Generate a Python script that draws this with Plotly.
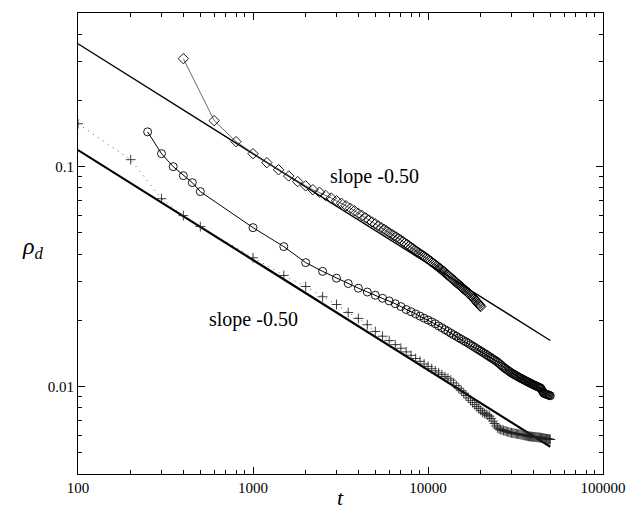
import plotly.graph_objects as go

# ---------------- data ----------------
diam_t = list(range(400, 20001, 200))
diam_rho = [
    0.310, 0.162, 0.130, 0.1146, 0.1043, 0.0968, 0.0907, 0.0855, 0.0818,
    0.0786, 0.0765, 0.0740, 0.0720, 0.0700, 0.0682, 0.0664, 0.0647, 0.0630, 0.0613,
    0.0599, 0.0585, 0.0572, 0.0560, 0.0549, 0.0538, 0.0528, 0.0519, 0.0510, 0.0501,
    0.0493, 0.0485, 0.0478, 0.0470, 0.0464, 0.0456, 0.0449, 0.0443, 0.0436, 0.0430,
    0.0424, 0.0418, 0.0413, 0.0407, 0.0402, 0.0397, 0.0393, 0.0389, 0.0384, 0.0380,
    0.0375, 0.0371, 0.0366, 0.0362, 0.0358, 0.0354, 0.0350, 0.0346, 0.0343, 0.0339,
    0.0335, 0.0332, 0.0328, 0.0324, 0.0321, 0.0318, 0.0314, 0.0311, 0.0308, 0.0305,
    0.0302, 0.0299, 0.0296, 0.0293, 0.0291, 0.0288, 0.0285, 0.0283, 0.0280, 0.0278,
    0.0276, 0.0273, 0.0271, 0.0268, 0.0266, 0.0264, 0.0261, 0.0259, 0.0257, 0.0255,
    0.0252, 0.0250, 0.0247, 0.0245, 0.0243, 0.0240, 0.0238, 0.0236, 0.0233, 0.0231,
]

circ_t = [250, 300, 350, 400, 450, 500] + list(range(1000, 50001, 500))
circ_rho = [
    0.144, 0.1146, 0.100, 0.091, 0.0846, 0.077,
    0.0528, 0.0433,
    0.0366, 0.0334, 0.0311, 0.0294, 0.0280, 0.0269, 0.0260, 0.0252, 0.0245, 0.0238, 0.0231, 0.0224,
    0.02188, 0.02138, 0.02090, 0.02046, 0.02006, 0.01968, 0.01929, 0.01887, 0.01850, 0.01814,
    0.01781, 0.01749, 0.01720, 0.01693, 0.01666, 0.01641, 0.01617, 0.01595, 0.01572, 0.01549,
    0.01528, 0.01507, 0.01487, 0.01468, 0.01450, 0.01432, 0.01415, 0.01398, 0.01381, 0.01365,
    0.01349, 0.01334, 0.01320, 0.01306, 0.01291, 0.01273, 0.01256, 0.01239, 0.01223, 0.01211,
    0.01198, 0.01186, 0.01175, 0.01163, 0.01152, 0.01143, 0.01135, 0.01127, 0.01119, 0.01111,
    0.01103, 0.01096, 0.01089, 0.01082, 0.01076, 0.01070, 0.01063, 0.01057, 0.01051, 0.01046,
    0.01040, 0.01035, 0.01029, 0.01024, 0.01019, 0.01015, 0.01010, 0.01005, 0.01001, 0.00996,
    0.00992, 0.00988, 0.00984, 0.00972, 0.00955, 0.00939, 0.00931, 0.00928, 0.00925, 0.00922,
    0.00919, 0.00916, 0.00914, 0.00910, 0.00908,
]

plus_t = [100, 200, 300, 400, 500] + list(range(1000, 50001, 500))
plus_rho = [
    0.1567, 0.1076, 0.0715, 0.0599, 0.0534,
    0.0385, 0.0320,
    0.0285, 0.0256, 0.0236, 0.0217, 0.0204, 0.0191, 0.0178,
    0.01693, 0.01618, 0.01551, 0.01493, 0.01437, 0.01386, 0.01341, 0.01302, 0.01266, 0.01234,
    0.01205, 0.01179, 0.01154, 0.01132, 0.01110, 0.01090, 0.01069, 0.01038, 0.01009, 0.00982,
    0.00957, 0.00933, 0.00910, 0.00887, 0.00865, 0.00845, 0.00827, 0.00810, 0.00795, 0.00779,
    0.00764, 0.00755, 0.00748, 0.00740, 0.00733, 0.00715, 0.00696, 0.00679, 0.00661, 0.00648,
    0.00641, 0.00637, 0.00634, 0.00631, 0.00628, 0.00625, 0.00622, 0.00620, 0.00617, 0.00616,
    0.00614, 0.00613, 0.00611, 0.00610, 0.00608, 0.00607, 0.00606, 0.00604, 0.00603, 0.00601,
    0.00600, 0.00598, 0.00597, 0.00596, 0.00594, 0.00593, 0.00592, 0.00592, 0.00591, 0.00590,
    0.00590, 0.00589, 0.00588, 0.00588, 0.00587, 0.00587, 0.00586, 0.00585, 0.00584, 0.00583,
    0.00582, 0.00581, 0.00580, 0.00579, 0.00578, 0.00578, 0.00577, 0.00576, 0.00575, 0.00574,
]

fit_t = [100, 50000]
fit_upper = [0.362, 0.0162]
fit_lower = [0.119, 0.00532]

x_tickvals = [100, 1000, 10000, 100000]
x_ticktext = ["100", "1000", "10000", "100000"]
y_tickvals = [0.01, 0.1]
y_ticktext = ["0.01", "0.1"]
slope_label = "slope -0.50"

assert len(diam_t) == len(diam_rho)
assert len(circ_t) == len(circ_rho)
assert len(plus_t) == len(plus_rho)

SERIF = "Liberation Serif"

fig = go.Figure()

# fitted lines
fig.add_trace(go.Scatter(x=fit_t, y=fit_upper, mode="lines",
                         line=dict(color="black", width=1.3), hoverinfo="skip"))
fig.add_trace(go.Scatter(x=fit_t, y=fit_lower, mode="lines",
                         line=dict(color="black", width=2.2), hoverinfo="skip"))

# plus series with sparse dotted connecting line
fig.add_trace(go.Scatter(x=plus_t, y=plus_rho, mode="lines+markers",
                         line=dict(color="#555555", width=1, dash="1px,5px"),
                         marker=dict(symbol="cross-thin", size=7, color="black",
                                     line=dict(color="rgba(30,30,30,0.85)", width=1))))

# circle series
fig.add_trace(go.Scatter(x=circ_t, y=circ_rho, mode="lines+markers",
                         line=dict(color="black", width=1),
                         marker=dict(symbol="circle-open", size=8, color="black",
                                     line=dict(color="black", width=0.9))))

# diamond series
fig.add_trace(go.Scatter(x=diam_t, y=diam_rho, mode="lines+markers",
                         line=dict(color="#444444", width=0.8),
                         marker=dict(symbol="diamond-open", size=8, color="black",
                                     line=dict(color="black", width=0.9))))

axis_common = dict(
    type="log", showline=True, linecolor="black", linewidth=1, mirror="allticks",
    ticks="inside", ticklen=7, tickcolor="black", tickwidth=1,
    showgrid=False, zeroline=False, automargin=False, ticklabeloverflow="allow",
    tickfont=dict(family=SERIF, size=15, color="black"),
)

fig.update_xaxes(
    **axis_common, range=[2, 5], tickmode="array",
    tickvals=x_tickvals, ticktext=x_ticktext,
    minor=dict(ticks="inside", ticklen=4, tickcolor="black", tickwidth=1,
               tickvals=[m * 10 ** k for k in range(2, 5) for m in range(2, 10)],
               showgrid=False),
)
fig.update_yaxes(
    **axis_common, range=[-2.398, -0.301], tickmode="array",
    tickvals=y_tickvals, ticktext=y_ticktext,
    minor=dict(ticks="inside", ticklen=4, tickcolor="black", tickwidth=1,
               tickvals=[m * 10 ** k for k in range(-3, 0) for m in range(2, 10)],
               showgrid=False),
)

fig.add_annotation(x=3.697, y=-1.045, xref="x", yref="y", text=slope_label,
                   showarrow=False, font=dict(family=SERIF, size=20, color="black"))
fig.add_annotation(x=3.0, y=-1.695, xref="x", yref="y", text=slope_label,
                   showarrow=False, font=dict(family=SERIF, size=20, color="black"))

fig.add_annotation(x=-0.11, y=0.49, xref="paper", yref="paper",
                   text="<i>ρ</i><sub><i>d</i></sub>", showarrow=False,
                   font=dict(family=SERIF, size=24, color="black"))
fig.add_annotation(x=0.5, y=-0.0824, xref="paper", yref="paper", yanchor="bottom",
                   text="<i>t</i>", showarrow=False,
                   font=dict(family=SERIF, size=22, color="black"))

fig.update_layout(
    width=626, height=512, showlegend=False,
    plot_bgcolor="white", paper_bgcolor="white",
    margin=dict(l=78, r=23, t=13, b=38),
)

# remove the page's default 8px body margin so the figure fills the window
fig.write_html("out.html",
               config={"displayModeBar": False},
               post_script="document.body.style.margin='0';document.body.style.overflow='hidden';")
